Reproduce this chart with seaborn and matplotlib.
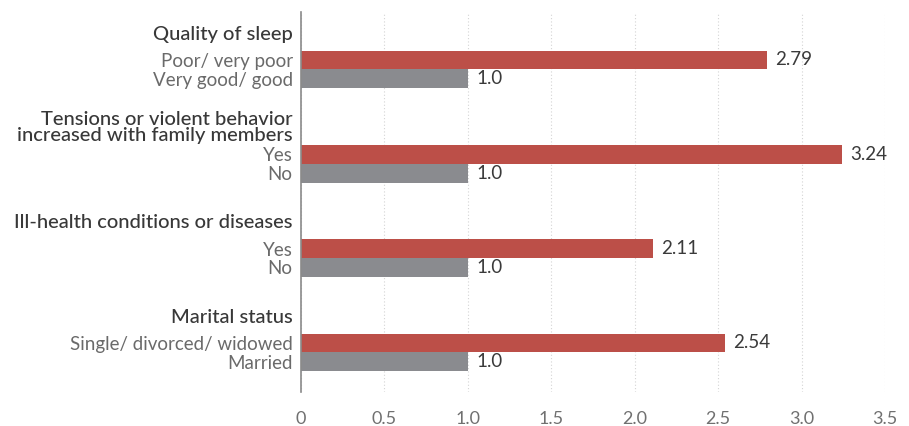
import matplotlib
matplotlib.use("Agg")
import matplotlib.pyplot as plt
import seaborn as sns
import pandas as pd
import numpy as np

# Odds ratios by factor (reference category = 1.0)
headings = [
    "Quality of sleep",
    "Tensions or violent behavior\nincreased with family members",
    "Ill-health conditions or diseases",
    "Marital status",
]
risk_labels = ["Poor/ very poor", "Yes", "Yes", "Single/ divorced/ widowed"]
ref_labels = ["Very good/ good", "No", "No", "Married"]
risk_values = [2.79, 3.24, 2.11, 2.54]
ref_values = [1.0, 1.0, 1.0, 1.0]

x_ticks = [0, 0.5, 1.0, 1.5, 2.0, 2.5, 3.0, 3.5]
x_tick_labels = ["0", "0.5", "1.0", "1.5", "2.0", "2.5", "3.0", "3.5"]

RED = "#BC4F48"
GREY = "#8A8B8F"

# each group occupies 5 slots: heading area, then the two bars
rows = []
for g in range(len(headings)):
    rows.append({"pos": 5 * g, "label": risk_labels[g], "value": risk_values[g], "kind": "risk"})
    rows.append({"pos": 5 * g + 1, "label": ref_labels[g], "value": ref_values[g], "kind": "ref"})
df = pd.DataFrame(rows)

sns.set_theme(style="white")
plt.rcParams["font.family"] = ["Lato", "DejaVu Sans"]

fig = plt.figure(figsize=(9.09, 4.26), dpi=100)
ax = fig.add_axes([0.3311, 0.0798, 0.6425, 0.892])

sns.barplot(data=df, x="value", y="pos", hue="kind", orient="y", native_scale=True,
            palette={"risk": RED, "ref": GREY}, hue_order=["risk", "ref"],
            saturation=1, dodge=False, width=1.0, errorbar=None, legend=False,
            ax=ax, linewidth=0, zorder=3)

def fmt(v):
    return f"{v:.1f}" if round(v, 1) == v else f"{v:.2f}"

for c in ax.containers:
    ax.bar_label(c, labels=[fmt(v) for v in c.datavalues], padding=6,
                 fontsize=13.5, color="#3a3a3a")

ax.set_xlim(0, 3.5)
ax.set_ylim(17.6, -2.54)
ax.set_xticks(x_ticks)
ax.set_xticklabels(x_tick_labels, fontsize=13, color="#707070")

# bar labels plus group headings as y tick labels
head_pos = [5 * g - 1.45 for g in range(len(headings))]
ytick_pos = list(df["pos"]) + head_pos
ytick_lab = list(df["label"]) + headings
ax.set_yticks(ytick_pos)
ax.set_yticklabels(ytick_lab)
n_sub = len(df)
for i, t in enumerate(ax.get_yticklabels()):
    if i < n_sub:
        t.set_fontsize(13.5)
        t.set_color("#6a6a6a")
    else:
        t.set_fontsize(14.5)
        t.set_color("#383838")
        t.set_fontweight("medium")
        t.set_linespacing(0.9)
ax.tick_params(axis="y", length=0, pad=6)
ax.tick_params(axis="x", length=0, pad=14)

ax.xaxis.grid(True, linestyle=(0, (1, 2)), color="#d4d4d4", linewidth=0.8, zorder=0)
ax.yaxis.grid(False)
for s in ["top", "right", "bottom"]:
    ax.spines[s].set_visible(False)
ax.spines["left"].set_color("#8a8a8a")
ax.spines["left"].set_linewidth(1.2)
ax.spines["left"].set_zorder(4)
ax.set_xlabel("")
ax.set_ylabel("")

fig.savefig("out.png", dpi=100)
